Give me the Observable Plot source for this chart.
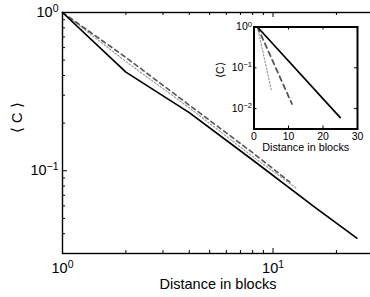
<!DOCTYPE html>
<html><head><meta charset="utf-8">
<script src="https://cdn.jsdelivr.net/npm/d3@7"></script>
<script src="https://cdn.jsdelivr.net/npm/@observablehq/plot@0.6"></script>
<style>
html,body{margin:0;padding:0;background:#fff;}
#wrap{position:relative;width:370px;height:297px;overflow:hidden;background:#fff;}
#wrap svg{position:absolute;overflow:visible;}
</style></head><body><div id="wrap"></div>
<script>
// ---- main chart data (log-log) ----
const distSolid = [1, 2, 4, 8, 16, 25];
const corrSolid = [1, 0.42, 0.233, 0.117, 0.058, 0.0375];
const distDashed = [1, 2, 4, 8, 12];
const corrDashed = [1, 0.52, 0.26, 0.13, 0.085];
const distDotted = [1, 2, 4, 8, 13];
const corrDotted = [1, 0.49, 0.25, 0.123, 0.077];
const xDomain = [1, 30];
const yDomain = [0.03, 1];
const xMajor = [1, 10];
const xMinor = [2, 3, 4, 5, 6, 7, 8, 9, 20];
const yMajor = [0.1, 1];
const yMinor = [0.04, 0.05, 0.06, 0.07, 0.08, 0.09, 0.2, 0.3, 0.4, 0.5, 0.6, 0.7, 0.8, 0.9];
const xLabel = "Distance in blocks";
const yLabel = "\u27E8 C \u27E9";

// ---- inset data (lin-log) ----
const insetDistSolid = [1, 25];
const insetCorrSolid = [1, 0.006];
const insetDistDashed = [1, 11];
const insetCorrDashed = [1, 0.013];
const insetDistDotted = [1, 5];
const insetCorrDotted = [1, 0.029];
const insetXDomain = [0, 30];
const insetYDomain = [Math.pow(10, -2.5), 1];
const insetXTicks = [0, 10, 20, 30];
const insetYTicks = [0.01, 0.1, 1];
const insetXLabel = "Distance in blocks";
const insetYLabel = "\u27E8C\u27E9";

const font = "'Liberation Sans', Arial, Helvetica, sans-serif";
const pow10 = d => "10^" + String(Math.round(Math.log10(d))).replace("-", "\u2212");

function superscripts(svg) {
  svg.querySelectorAll("text").forEach(t => {
    const s = t.textContent;
    if (!s.includes("^")) return;
    const [b, e] = s.split("^");
    while (t.firstChild) t.removeChild(t.firstChild);
    const ns = "http://www.w3.org/2000/svg";
    const t1 = document.createElementNS(ns, "tspan");
    t1.textContent = b;
    const t2 = document.createElementNS(ns, "tspan");
    t2.textContent = e;
    t2.setAttribute("dy", "-0.5em");
    t2.setAttribute("font-size", "72%");
    t.appendChild(t1); t.appendChild(t2);
  });
}

// ---- main ----
const W = 370, H = 297, mL = 62, mT = 12, mB = 44, mR = -3;
const fw = W - mL - mR, fh = H - mT - mB;
const main = Plot.plot({
  width: W, height: H,
  marginLeft: mL, marginTop: mT, marginBottom: mB, marginRight: mR,
  x: {type: "log", domain: xDomain},
  y: {type: "log", domain: yDomain},
  style: {fontFamily: font, fontSize: "14.5px", background: "transparent", color: "black"},
  marks: [
    Plot.line(distDotted, {x: distDotted, y: corrDotted, stroke: "#9a9a9a", strokeWidth: 1.2, strokeDasharray: "1.5,2"}),
    Plot.line(distDashed, {x: distDashed, y: corrDashed, stroke: "#555", strokeWidth: 1.6, strokeDasharray: "4.5,3.5"}),
    Plot.line(distSolid, {x: distSolid, y: corrSolid, stroke: "black", strokeWidth: 1.7}),
    Plot.ruleX(xMajor, {x: d => d, insetTop: fh - 5, stroke: "black"}),
    Plot.ruleX(xMajor, {x: d => d, insetBottom: fh - 5, stroke: "black"}),
    Plot.ruleX(xMinor, {x: d => d, insetTop: fh - 3, stroke: "black"}),
    Plot.ruleX(xMinor, {x: d => d, insetBottom: fh - 3, stroke: "black"}),
    Plot.ruleY(yMajor, {y: d => d, insetRight: fw - 5, stroke: "black"}),
    Plot.ruleY(yMinor, {y: d => d, insetRight: fw - 3, stroke: "black"}),
    Plot.frame({stroke: "black", strokeWidth: 1.4}),
    Plot.axisX({ticks: xMajor, tickSize: 0, tickPadding: 9, tickFormat: pow10, label: null, anchor: "bottom"}),
    Plot.axisY({ticks: yMajor, tickSize: 0, tickPadding: 4, tickFormat: pow10, label: null, anchor: "left"}),
    Plot.text([xLabel], {frameAnchor: "bottom", dy: 35, text: d => d, fontSize: 14.5}),
    Plot.text([yLabel], {frameAnchor: "left", dx: -45.5, rotate: -90, text: d => d, fontSize: 14.5})
  ]
});
main.style.left = "0px"; main.style.top = "0px";
superscripts(main);
document.getElementById("wrap").appendChild(main);

// ---- inset ----
const iW = 165, iH = 150, iL = 53.5, iT = 11.5, iR = 8, iB = 36.5;
const ifw = iW - iL - iR, ifh = iH - iT - iB;
const inset = Plot.plot({
  width: iW, height: iH,
  marginLeft: iL, marginTop: iT, marginRight: iR, marginBottom: iB,
  x: {type: "linear", domain: insetXDomain},
  y: {type: "log", domain: insetYDomain},
  style: {fontFamily: font, fontSize: "10.5px", background: "transparent", color: "black"},
  marks: [
    Plot.frame({fill: "white"}),
    Plot.line(insetDistDotted, {x: insetDistDotted, y: insetCorrDotted, stroke: "#9a9a9a", strokeWidth: 1.2, strokeDasharray: "1.5,2"}),
    Plot.line(insetDistDashed, {x: insetDistDashed, y: insetCorrDashed, stroke: "#555", strokeWidth: 1.8, strokeDasharray: "5,4"}),
    Plot.line(insetDistSolid, {x: insetDistSolid, y: insetCorrSolid, stroke: "black", strokeWidth: 1.7}),
    Plot.ruleX(insetXTicks, {x: d => d, insetTop: ifh - 3, stroke: "black"}),
    Plot.ruleX(insetXTicks, {x: d => d, insetBottom: ifh - 3, stroke: "black"}),
    Plot.ruleY(insetYTicks, {y: d => d, insetRight: ifw - 3, stroke: "black"}),
    Plot.ruleY(insetYTicks, {y: d => d, insetLeft: ifw - 3, stroke: "black"}),
    Plot.frame({stroke: "black", strokeWidth: 2}),
    Plot.axisX({ticks: insetXTicks, tickSize: 0, tickPadding: 3.5, tickFormat: d => String(d), label: null, anchor: "bottom"}),
    Plot.axisY({ticks: insetYTicks, tickSize: 0, tickPadding: 2, tickFormat: pow10, label: null, anchor: "left"}),
    Plot.text([insetXLabel], {frameAnchor: "bottom", dy: 21.5, text: d => d, fontSize: 10.8}),
    Plot.text([insetYLabel], {frameAnchor: "left", dx: -33.5, rotate: -90, text: d => d, fontSize: 10.5})
  ]
});
inset.style.left = "200px"; inset.style.top = "15px";
superscripts(inset);
document.getElementById("wrap").appendChild(inset);
</script>
</body></html>
